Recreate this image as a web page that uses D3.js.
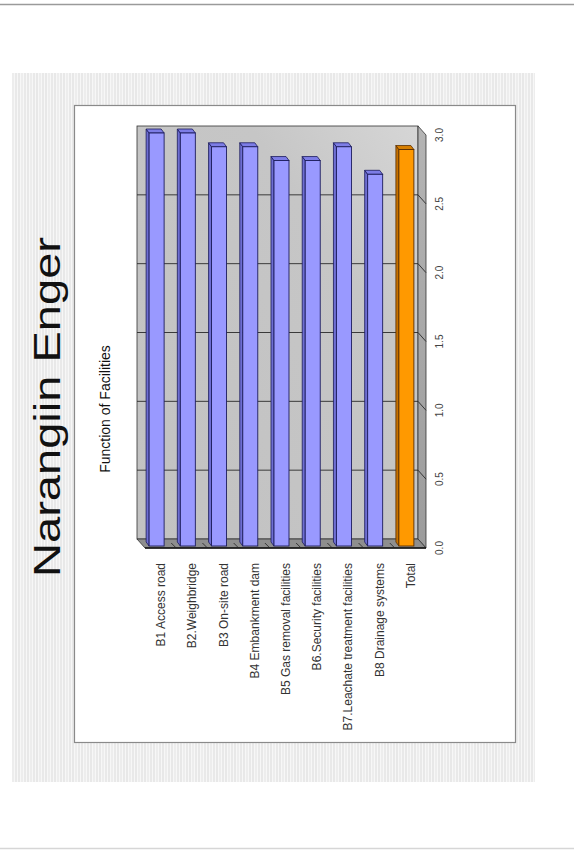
<!DOCTYPE html>
<html>
<head>
<meta charset="utf-8">
<script src="https://cdn.jsdelivr.net/npm/d3@7"></script>
<style>
  html, body { margin: 0; padding: 0; background: #fff; }
  svg { display: block; }
  text { font-family: Arial, "Liberation Sans", Helvetica, sans-serif; }
</style>
</head>
<body>
<svg id="slide" width="574" height="850"></svg>
<script>
// ---- data ----
const categories = [
  "B1 Access road",
  "B2.Weighbridge",
  "B3 On-site road",
  "B4 Embankment dam",
  "B5 Gas removal facilities",
  "B6.Security facilities",
  "B7.Leachate treatment facilities",
  "B8 Drainage systems",
  "Total"
];
const values = [3.0, 3.0, 2.9, 2.9, 2.8, 2.8, 2.9, 2.7, 2.88];
const tickValues = [0, 0.5, 1.0, 1.5, 2.0, 2.5, 3.0];
const tickLabels = ["0.0", "0.5", "1.0", "1.5", "2.0", "2.5", "3.0"];
const slideTitle = "Narangiin Enger";
const chartTitle = "Function of Facilities";

// ---- canvas ----
const svg = d3.select("#slide");
const defs = svg.append("defs");

// fine vertical hatching of the slide backdrop
const pat = defs.append("pattern")
  .attr("id", "hatch").attr("patternUnits", "userSpaceOnUse")
  .attr("width", 9).attr("height", 10);
pat.append("rect").attr("width", 9).attr("height", 10).attr("fill", "#f7f7f7");
[[0.5, "#d9d9d9"], [3.5, "#e4e4e4"], [6.5, "#dcdcdc"]].forEach(([px, c]) =>
  pat.append("rect").attr("x", px).attr("y", 0).attr("width", 1).attr("height", 10).attr("fill", c));

const wallGrad = defs.append("linearGradient").attr("id", "wall")
  .attr("x1", 0).attr("y1", 1).attr("x2", 1).attr("y2", 0);
wallGrad.append("stop").attr("offset", 0).attr("stop-color", "#c2c2c2");
wallGrad.append("stop").attr("offset", 0.7).attr("stop-color", "#c6c6c6");
wallGrad.append("stop").attr("offset", 1).attr("stop-color", "#d6d6d6");

const sideGrad = defs.append("linearGradient").attr("id", "side")
  .attr("x1", 0).attr("y1", 0).attr("x2", 0).attr("y2", 1);
sideGrad.append("stop").attr("offset", 0).attr("stop-color", "#b4b4b4");
sideGrad.append("stop").attr("offset", 1).attr("stop-color", "#9c9c9c");

// page edges
svg.append("line").attr("x1", 0).attr("x2", 574).attr("y1", 4.5).attr("y2", 4.5)
  .attr("stroke", "#9a9a9a").attr("stroke-width", 1.5);
svg.append("line").attr("x1", 0).attr("x2", 574).attr("y1", 848.5).attr("y2", 848.5)
  .attr("stroke", "#d6d6d6").attr("stroke-width", 1.5);

// hatched backdrop panel
svg.append("rect").attr("x", 12).attr("y", 73).attr("width", 523).attr("height", 709)
  .attr("fill", "url(#hatch)");

// white chart box
svg.append("rect").attr("x", 74.5).attr("y", 105.5).attr("width", 441).attr("height", 637)
  .attr("fill", "#fff").attr("stroke", "#8a8a8a").attr("stroke-width", 1.2);

// slide title and chart title (rotated, reading upward)
svg.append("text")
  .attr("transform", "translate(60,407) rotate(-90)")
  .attr("text-anchor", "middle")
  .attr("font-size", 36)
  .attr("textLength", 340).attr("lengthAdjust", "spacingAndGlyphs")
  .attr("fill", "#111")
  .text(slideTitle);

svg.append("text")
  .attr("transform", "translate(109.5,409) rotate(-90)")
  .attr("text-anchor", "middle")
  .attr("font-size", 14)
  .attr("fill", "#111")
  .text(chartTitle);

// ---- 3D bar chart ----
const depth = { dx: 8, dy: 9 };          // back wall -> front plane offset
const x = d3.scaleBand().domain(categories).range([137, 418]);
const y = d3.scaleLinear().domain([0, 3]).range([539, 126]);
const bw = x.bandwidth();
const x0 = x.range()[0], x1 = x.range()[1];
const yTop = y(3), yBase = y(0);

const plot = svg.append("g");

// back wall
plot.append("rect").attr("x", x0).attr("y", yTop).attr("width", x1 - x0).attr("height", yBase - yTop)
  .attr("fill", "url(#wall)").attr("stroke", "#333").attr("stroke-width", 0.8);

// side wall at the value end
plot.append("polygon")
  .attr("points", [[x1, yTop], [x1 + depth.dx, yTop + depth.dy], [x1 + depth.dx, yBase + depth.dy], [x1, yBase]].join(" "))
  .attr("fill", "url(#side)").attr("stroke", "#333").attr("stroke-width", 0.8);

// floor
plot.append("polygon")
  .attr("points", [[x0, yBase], [x1, yBase], [x1 + depth.dx, yBase + depth.dy], [x0 + depth.dx, yBase + depth.dy]].join(" "))
  .attr("fill", "#8e8e8e").attr("stroke", "#333").attr("stroke-width", 0.8);
plot.append("line")
  .attr("x1", x0 + depth.dx).attr("x2", x1 + depth.dx)
  .attr("y1", yBase + depth.dy).attr("y2", yBase + depth.dy)
  .attr("stroke", "#111").attr("stroke-width", 1.6);

// gridlines on back wall and side wall
const grid = plot.append("g");
tickValues.filter(v => v > 0 && v < 3).forEach(v => {
  grid.append("line").attr("x1", x0).attr("x2", x1).attr("y1", y(v)).attr("y2", y(v))
    .attr("stroke", "#2a2a2a").attr("stroke-width", 0.9);
  grid.append("line").attr("x1", x1).attr("x2", x1 + depth.dx).attr("y1", y(v)).attr("y2", y(v) + depth.dy)
    .attr("stroke", "#2a2a2a").attr("stroke-width", 0.9);
});

// category tick marks along the floor's front edge
categories.slice(1).forEach(c => {
  const fx = x(c) + depth.dx;
  plot.append("line").attr("x1", fx).attr("x2", fx - 5)
    .attr("y1", yBase + depth.dy).attr("y2", yBase + depth.dy - 5)
    .attr("stroke", "#222").attr("stroke-width", 0.8);
});

// bars
const barW = 15, barOff = { dx: 4, dy: 7 }, cap = { dx: -3, dy: -4 };
const styles = {
  normal: { face: "#9999ff", top: "#7d7de6", side: "#6e6ed2", edge: "#1c1c5c" },
  total:  { face: "#ff9900", top: "#d77f00", side: "#c47000", edge: "#5a2e00" }
};
const bars = plot.append("g").selectAll("g").data(categories.map((c, i) => ({ c, v: values[i] })))
  .join("g");
bars.each(function (d) {
  const s = d.c === "Total" ? styles.total : styles.normal;
  const g = d3.select(this);
  const bx = x(d.c) + bw / 2 - barW / 2 + barOff.dx;
  const top = y(d.v) + barOff.dy;
  const bot = y(0) + barOff.dy;
  g.append("polygon")
    .attr("points", [[bx, top], [bx + cap.dx, top + cap.dy], [bx + cap.dx, bot + cap.dy], [bx, bot]].join(" "))
    .attr("fill", s.side).attr("stroke", s.edge).attr("stroke-width", 0.8).attr("stroke-linejoin", "round");
  g.append("polygon")
    .attr("points", [[bx, top], [bx + barW, top], [bx + barW + cap.dx, top + cap.dy], [bx + cap.dx, top + cap.dy]].join(" "))
    .attr("fill", s.top).attr("stroke", s.edge).attr("stroke-width", 0.8).attr("stroke-linejoin", "round");
  g.append("rect").attr("x", bx).attr("y", top).attr("width", barW).attr("height", bot - top)
    .attr("fill", s.face).attr("stroke", s.edge).attr("stroke-width", 0.9);
});

// value axis labels (front plane)
svg.append("g").selectAll("text").data(tickValues).join("text")
  .attr("transform", (v) => `translate(443,${y(v) + depth.dy}) rotate(-90)`)
  .attr("text-anchor", "middle")
  .attr("font-size", 10)
  .attr("fill", "#444")
  .text((v, i) => tickLabels[i]);

// category labels
svg.append("g").selectAll("text").data(categories).join("text")
  .attr("transform", (c) => `translate(${x(c) + bw / 2 + depth.dx + 4.5},563) rotate(-90)`)
  .attr("text-anchor", "end")
  .attr("font-size", 12)
  .attr("fill", "#333")
  .text((c) => c);
</script>
</body>
</html>
